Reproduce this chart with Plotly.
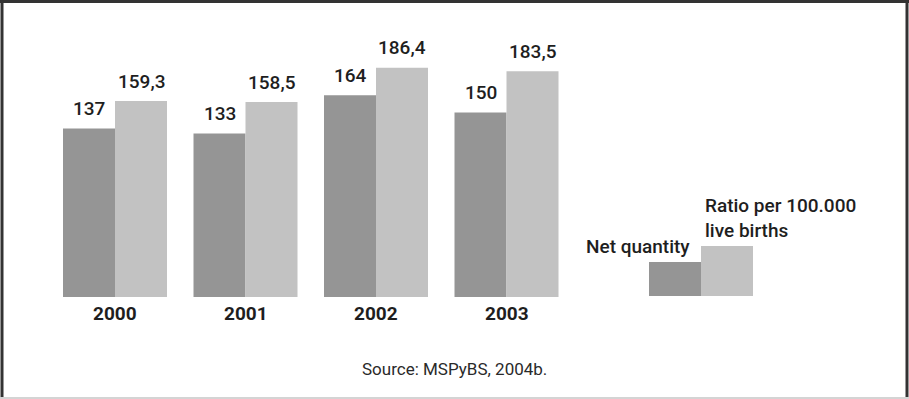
import plotly.graph_objects as go

years = ["2000", "2001", "2002", "2003"]
net_quantity = [137, 133, 164, 150]
ratio_per_100k = [159.3, 158.5, 186.4, 183.5]
ratio_labels = ["159,3", "158,5", "186,4", "183,5"]
series_names = ["Net quantity", "Ratio per 100.000<br>live births"]
source_text = "Source: MSPyBS, 2004b."

DARK = "#959595"
LIGHT = "#c2c2c2"
TXT = "#1e1e1e"
FONT = "Roboto, Liberation Sans, sans-serif"

W, H = 909, 399
xs = list(range(len(years)))

fig = go.Figure()
fig.add_trace(go.Bar(x=xs, y=net_quantity, marker=dict(color=DARK, line=dict(width=0)),
                     name=series_names[0], showlegend=False, hoverinfo="skip"))
fig.add_trace(go.Bar(x=xs, y=ratio_per_100k, marker=dict(color=LIGHT, line=dict(width=0)),
                     name=series_names[1], showlegend=False, hoverinfo="skip"))

ann = []
for i, (a, b, lb) in enumerate(zip(net_quantity, ratio_per_100k, ratio_labels)):
    ann.append(dict(x=i, y=a, xref="x", yref="y", text=str(a), showarrow=False,
                    xshift=-26, yshift=20, yanchor="middle",
                    font=dict(family=FONT, size=19, color=TXT, weight=500)))
    ann.append(dict(x=i, y=b, xref="x", yref="y", text=lb, showarrow=False,
                    xshift=26, yshift=20, yanchor="middle",
                    font=dict(family=FONT, size=19, color=TXT, weight=500)))
    ann.append(dict(x=i, y=1 - 313 / H, xref="x", yref="paper", text=years[i],
                    showarrow=False, yanchor="middle",
                    font=dict(family=FONT, size=19, color=TXT, weight=700)))

# legend labels
ann.append(dict(x=692 / W, y=1 - 246 / H, xref="paper", yref="paper", text=series_names[0],
                showarrow=False, xanchor="right", yanchor="middle",
                font=dict(family=FONT, size=19, color=TXT, weight=500)))
ann.append(dict(x=703 / W, y=1 - 218 / H, xref="paper", yref="paper", text=series_names[1],
                showarrow=False, xanchor="left", yanchor="middle", align="left",
                font=dict(family=FONT, size=19, color=TXT, weight=500)))
ann.append(dict(x=454 / W, y=1 - 369 / H, xref="paper", yref="paper", text=source_text,
                showarrow=False, xanchor="center", yanchor="middle",
                font=dict(family=FONT, size=17, color="#2a2a2a")))

shapes = [
    dict(type="rect", xref="paper", yref="paper", x0=649 / W, x1=701 / W,
         y0=1 - 296 / H, y1=1 - 262 / H, fillcolor=DARK, line=dict(width=0)),
    dict(type="rect", xref="paper", yref="paper", x0=701 / W, x1=753 / W,
         y0=1 - 296 / H, y1=1 - 246 / H, fillcolor=LIGHT, line=dict(width=0)),
    # frame
    dict(type="line", xref="paper", yref="paper", x0=0, x1=1, y0=1 - 1.5 / H, y1=1 - 1.5 / H,
         line=dict(color="#333333", width=3)),
    dict(type="line", xref="paper", yref="paper", x0=2 / W, x1=2 / W, y0=0, y1=1,
         line=dict(color="#333333", width=3)),
    dict(type="line", xref="paper", yref="paper", x0=907 / W, x1=907 / W, y0=0, y1=1,
         line=dict(color="#333333", width=3)),
    dict(type="line", xref="paper", yref="paper", x0=0, x1=1, y0=1 - 398 / H, y1=1 - 398 / H,
         line=dict(color="#d4d4d4", width=2)),
]

spacing = 130.5
x0px = 115
scale = 1.23
y0px = 297

fig.update_layout(
    width=W, height=H, margin=dict(l=0, r=0, t=0, b=0),
    paper_bgcolor="white", plot_bgcolor="white",
    barmode="group", bargap=0.203, bargroupgap=0,
    xaxis=dict(range=[-x0px / spacing, (W - x0px) / spacing], visible=False, fixedrange=True),
    yaxis=dict(range=[-(H - y0px) / scale, y0px / scale], visible=False, fixedrange=True),
    annotations=ann, shapes=shapes, showlegend=False,
)

fig.write_html("out.html")
